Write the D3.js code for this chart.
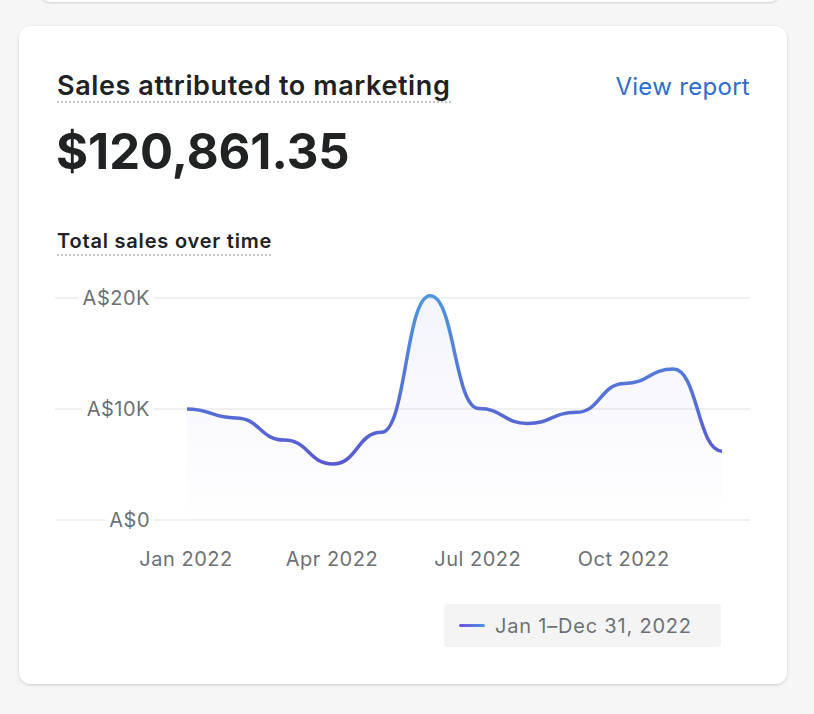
<!DOCTYPE html>
<html lang="en">
<head>
  <meta charset="UTF-8">
  <title>Sales attributed to marketing</title>
  <script src="https://d3js.org/d3.v7.min.js"></script>
  <style>
    * { margin: 0; padding: 0; box-sizing: border-box; }
    body {
      background: #f6f6f7;
      font-family: Inter, "Noto Sans", Arial, sans-serif;
    }
  </style>
</head>
<body>
  <div id="chart"></div>

  <script>
    // monthly sales, 2022
    const months = ["Jan", "Feb", "Mar", "Apr", "May", "Jun", "Jul", "Aug", "Sep", "Oct", "Nov", "Dec"];
    const sales = [10000, 9200, 7200, 5050, 7900, 20200, 10050, 8700, 9700, 12300, 13600, 6200];
    const yTicks = [0, 10000, 20000];
    const yTickLabels = ["A$0", "A$10K", "A$20K"];
    const xTicks = ["Jan", "Apr", "Jul", "Oct"];
    const xTickLabels = ["Jan 2022", "Apr 2022", "Jul 2022", "Oct 2022"];

    const data = months.map((m, i) => ({ month: m, value: sales[i] }));

    const W = 814, H = 714;
    const svg = d3.select("#chart")
                  .append("svg")
                  .attr("width", W)
                  .attr("height", H);

    const defs = svg.append("defs");

    const shadow = defs.append("filter")
                       .attr("id", "shadow")
                       .attr("x", "-5%").attr("y", "-5%")
                       .attr("width", "110%").attr("height", "110%");
    shadow.append("feDropShadow")
          .attr("dx", 0).attr("dy", 1)
          .attr("stdDeviation", 1.5)
          .attr("flood-color", "#000")
          .attr("flood-opacity", 0.18);

    // previous card peeking in at the top
    svg.append("rect")
       .attr("x", 40).attr("y", -20)
       .attr("width", 740).attr("height", 22)
       .attr("rx", 12)
       .attr("fill", "#fff")
       .attr("filter", "url(#shadow)");

    // card
    svg.append("rect")
       .attr("x", 19).attr("y", 26)
       .attr("width", 768).attr("height", 658)
       .attr("rx", 12)
       .attr("fill", "#fff")
       .attr("filter", "url(#shadow)");

    // header texts
    svg.append("text")
       .attr("x", 57).attr("y", 95)
       .style("font-size", "27px")
       .style("font-weight", 600)
       .style("letter-spacing", "0.6px")
       .style("fill", "#202223")
       .text("Sales attributed to marketing");

    svg.append("line")
       .attr("x1", 57).attr("x2", 452)
       .attr("y1", 102).attr("y2", 102)
       .attr("stroke", "#c4c8ce")
       .attr("stroke-width", 2)
       .attr("stroke-dasharray", "2,2");

    svg.append("text")
       .attr("x", 750).attr("y", 95)
       .attr("text-anchor", "end")
       .style("font-size", "24px")
       .style("letter-spacing", "0.3px")
       .style("fill", "#2c6ecb")
       .text("View report");

    svg.append("text")
       .attr("x", 56).attr("y", 169)
       .style("font-size", "49px")
       .style("font-weight", 700)
       .style("fill", "#202223")
       .text("$120,861.35");

    svg.append("text")
       .attr("x", 57).attr("y", 248)
       .style("font-size", "20px")
       .style("font-weight", 600)
       .style("letter-spacing", "0.8px")
       .style("fill", "#202223")
       .text("Total sales over time");

    svg.append("line")
       .attr("x1", 57).attr("x2", 273)
       .attr("y1", 255).attr("y2", 255)
       .attr("stroke", "#c4c8ce")
       .attr("stroke-width", 2)
       .attr("stroke-dasharray", "2,2");

    // chart
    const x = d3.scalePoint()
                .domain(months)
                .range([187, 722]);

    const y = d3.scaleLinear()
                .domain([0, 20000])
                .range([520, 298]);

    const grid = svg.append("g");
    yTicks.forEach((t, i) => {
      grid.append("line")
          .attr("x1", 55).attr("x2", 750)
          .attr("y1", y(t)).attr("y2", y(t))
          .attr("stroke", "#ebebeb")
          .attr("stroke-width", 1.5);
      const lbl = grid.append("text")
                      .attr("x", 150).attr("y", y(t))
                      .attr("dy", "0.35em")
                      .attr("text-anchor", "end")
                      .style("font-size", "20px")
                      .style("letter-spacing", "0.5px")
                      .style("fill", "#6d7175")
                      .text(yTickLabels[i]);
      const bb = lbl.node().getBBox();
      grid.insert("rect", () => lbl.node())
          .attr("x", bb.x - 4).attr("y", y(t) - 3)
          .attr("width", bb.width + 8).attr("height", 6)
          .attr("fill", "#fff");
    });

    svg.append("g")
       .selectAll("text")
       .data(xTicks)
       .enter()
       .append("text")
       .attr("x", d => x(d) - 1)
       .attr("y", 566)
       .attr("text-anchor", "middle")
       .style("font-size", "20px")
       .style("letter-spacing", "0.5px")
       .style("fill", "#6d7175")
       .text((d, i) => xTickLabels[i]);

    const strokeGrad = defs.append("linearGradient")
                           .attr("id", "strokeGrad")
                           .attr("gradientUnits", "userSpaceOnUse")
                           .attr("x1", 0).attr("x2", 0)
                           .attr("y1", y(20000)).attr("y2", y(5000));
    strokeGrad.append("stop").attr("offset", "0%").attr("stop-color", "#4e95de");
    strokeGrad.append("stop").attr("offset", "100%").attr("stop-color", "#5a59d2");

    const areaGrad = defs.append("linearGradient")
                         .attr("id", "areaGrad")
                         .attr("gradientUnits", "userSpaceOnUse")
                         .attr("x1", 0).attr("x2", 0)
                         .attr("y1", y(20000)).attr("y2", y(0));
    areaGrad.append("stop").attr("offset", "0%").attr("stop-color", "#5a5fd6").attr("stop-opacity", 0.07);
    areaGrad.append("stop").attr("offset", "75%").attr("stop-color", "#5a5fd6").attr("stop-opacity", 0.02);
    areaGrad.append("stop").attr("offset", "100%").attr("stop-color", "#5a5fd6").attr("stop-opacity", 0);

    const area = d3.area()
                   .x(d => x(d.month))
                   .y0(y(0))
                   .y1(d => y(d.value))
                   .curve(d3.curveBumpX);

    const line = d3.line()
                   .x(d => x(d.month))
                   .y(d => y(d.value))
                   .curve(d3.curveBumpX);

    svg.append("path")
       .datum(data)
       .attr("d", area)
       .attr("fill", "url(#areaGrad)");

    svg.append("path")
       .datum(data)
       .attr("d", line)
       .attr("fill", "none")
       .attr("stroke", "url(#strokeGrad)")
       .attr("stroke-width", 3.5);

    // legend
    const legendGrad = defs.append("linearGradient")
                           .attr("id", "legendGrad")
                           .attr("x1", 0).attr("x2", 1)
                           .attr("y1", 0).attr("y2", 0);
    legendGrad.append("stop").attr("offset", "0%").attr("stop-color", "#6a4fe0");
    legendGrad.append("stop").attr("offset", "100%").attr("stop-color", "#4e95de");

    const legend = svg.append("g");
    legend.append("rect")
          .attr("x", 444).attr("y", 604)
          .attr("width", 277).attr("height", 43)
          .attr("rx", 4)
          .attr("fill", "#f4f4f5");
    legend.append("rect")
          .attr("x", 459).attr("y", 624)
          .attr("width", 26).attr("height", 3)
          .attr("rx", 1.5)
          .attr("fill", "url(#legendGrad)");
    legend.append("text")
          .attr("x", 495).attr("y", 633)
          .style("font-size", "20px")
          .style("letter-spacing", "0.8px")
          .style("fill", "#6d7175")
          .text("Jan 1–Dec 31, 2022");
  </script>
</body>
</html>
